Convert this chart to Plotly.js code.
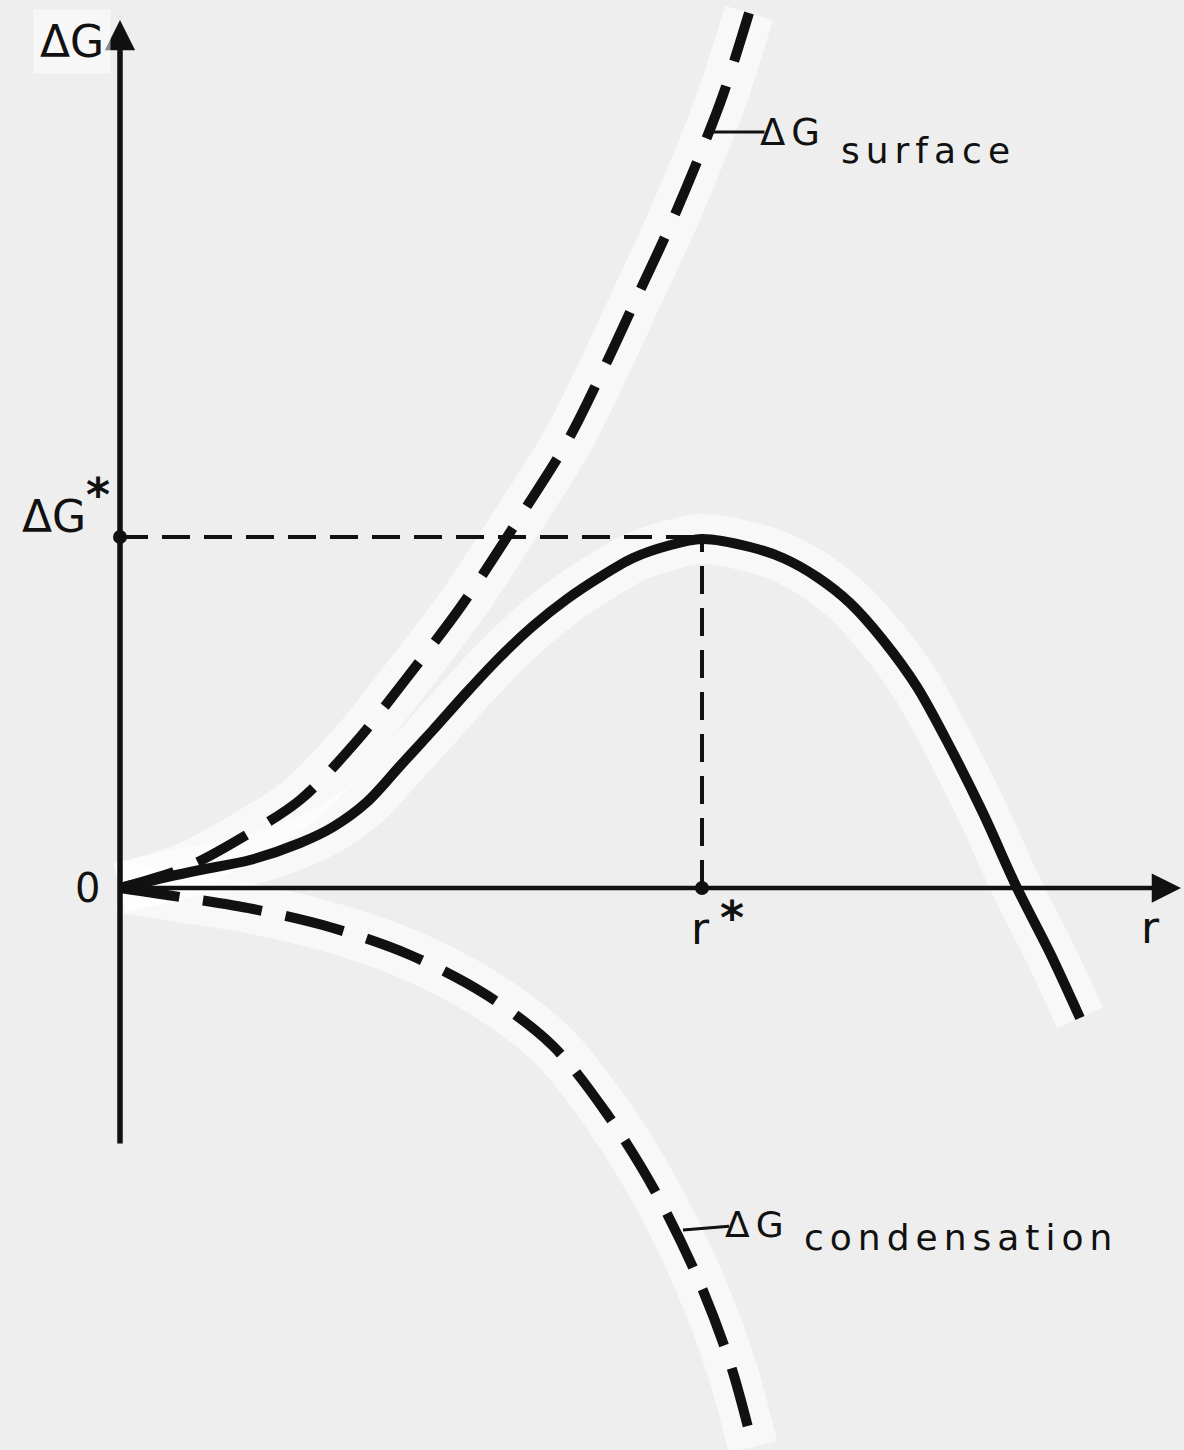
<!DOCTYPE html>
<html>
<head>
<meta charset="utf-8">
<script src="https://cdn.plot.ly/plotly-3.0.1.min.js"></script>
<style>
    body { margin: 0; background: #eeeeee; }
    #myPlot { width: 1184px; height: 1450px; }
    /* wide lettering of the curve labels */
    .annotation[data-index="9"] text,
    .annotation[data-index="10"] text,
    .annotation[data-index="11"] text,
    .annotation[data-index="12"] text { letter-spacing: 6px; }
</style>
</head>
<body>
<div id="myPlot"></div>
<script>
// Values (r along x, ΔG along y, arbitrary units)
const surfaceR = [0, 67, 123, 180, 235, 286, 342, 398, 447, 484, 517, 549, 579, 603, 629];
const surfaceG = [0, 21, 51, 88, 145, 209, 283, 368, 446, 520, 591, 660, 731, 793, 875];

const totalR = [0, 47, 80, 130, 180, 213, 247, 280, 313, 347, 380, 413, 447, 480, 513, 547, 582, 630, 663, 697, 730, 763, 797, 830, 863, 897, 930, 960];
const totalG = [0, 11, 18, 28, 45, 61, 86, 122, 158, 196, 231, 262, 289, 311, 330, 342, 349, 341, 330, 311, 285, 248, 201, 141, 75, 0, -65, -130];

const condR = [0, 60, 133, 213, 290, 365, 433, 487, 535, 579, 611, 633];
const condG = [0, -9, -21, -40, -67, -106, -158, -226, -303, -393, -478, -559];

// critical radius and barrier height
const rStar = 582;
const gStar = 351;

const ink = '#111111';
const halo = 'rgba(255,255,255,0.6)';
const font = 'DejaVu Sans';

function haloTrace(x, y) {
    return { x: x, y: y, type: 'scatter', mode: 'lines', hoverinfo: 'skip',
             line: { color: halo, width: 50, shape: 'spline', smoothing: 0.9 } };
}

const data = [
    haloTrace(surfaceR, surfaceG),
    haloTrace(totalR, totalG),
    haloTrace(condR, condG),
    // guide lines to the maximum
    { x: [0, rStar], y: [gStar, gStar], type: 'scatter', mode: 'lines',
      line: { color: ink, width: 4, dash: '28px,14px' } },
    { x: [rStar, rStar], y: [0, gStar], type: 'scatter', mode: 'lines',
      line: { color: ink, width: 4, dash: '28px,14px' } },
    { x: surfaceR, y: surfaceG, type: 'scatter', mode: 'lines', name: 'surface',
      line: { color: ink, width: 10, dash: '56px,26px', shape: 'spline', smoothing: 0.9 } },
    { x: condR, y: condG, type: 'scatter', mode: 'lines', name: 'condensation',
      line: { color: ink, width: 10, dash: '60px,24px', shape: 'spline', smoothing: 0.9 } },
    { x: totalR, y: totalG, type: 'scatter', mode: 'lines', name: 'total',
      line: { color: ink, width: 10, shape: 'spline', smoothing: 0.9 } },
    { x: [0, rStar], y: [gStar, 0], type: 'scatter', mode: 'markers',
      marker: { color: ink, size: 14 } }
];

function label(text, x, y, size, extra) {
    return Object.assign({ text: text, x: x, y: y, xref: 'x', yref: 'y', showarrow: false,
        font: { family: font, size: size, color: ink } }, extra || {});
}

const annotations = [
    // axes with arrow heads
    { text: '', x: 0, y: 868, ax: 0, ay: -257, xref: 'x', yref: 'y', axref: 'x', ayref: 'y',
      showarrow: true, arrowhead: 2, arrowsize: 1.1, arrowwidth: 5.5, arrowcolor: ink, standoff: 0 },
    { text: '', x: 1061, y: 0, ax: 0, ay: 0, xref: 'x', yref: 'y', axref: 'x', ayref: 'y',
      showarrow: true, arrowhead: 2, arrowsize: 1.3, arrowwidth: 4.5, arrowcolor: ink, standoff: 0 },
    label('ΔG', -48, 847, 44, { bgcolor: 'rgba(255,255,255,0.5)', borderpad: 6 }),
    label('ΔG', -66, 372, 44),
    label('<b>*</b>', -22, 393, 46),
    label('0', -33, 0, 40),
    label('r', 580, -40, 44),
    label('<b>*</b>', 612, -30, 46),
    label('r', 1030, -39, 44),
    // curve labels with short leader lines
    label('ΔG', 590, 756, 37, { ax: 673, ay: 756, axref: 'x', ayref: 'y', showarrow: true,
        arrowhead: 0, arrowwidth: 3, arrowcolor: ink, standoff: 0 }),
    label('surface', 808, 738, 36),
    label('ΔG', 563, -342, 36, { ax: 637, ay: -336, axref: 'x', ayref: 'y', showarrow: true,
        arrowhead: 0, arrowwidth: 3, arrowcolor: ink, standoff: 0 }),
    label('condensation', 841, -349, 36)
];

const layout = {
    width: 1184,
    height: 1450,
    margin: { l: 0, r: 0, t: 0, b: 0 },
    paper_bgcolor: '#eeeeee',
    plot_bgcolor: '#eeeeee',
    showlegend: false,
    xaxis: { range: [-120, 1064], visible: false, fixedrange: true },
    yaxis: { range: [-562, 888], visible: false, fixedrange: true },
    annotations: annotations
};

Plotly.newPlot('myPlot', data, layout, { displayModeBar: false, staticPlot: true });
</script>
</body>
</html>
